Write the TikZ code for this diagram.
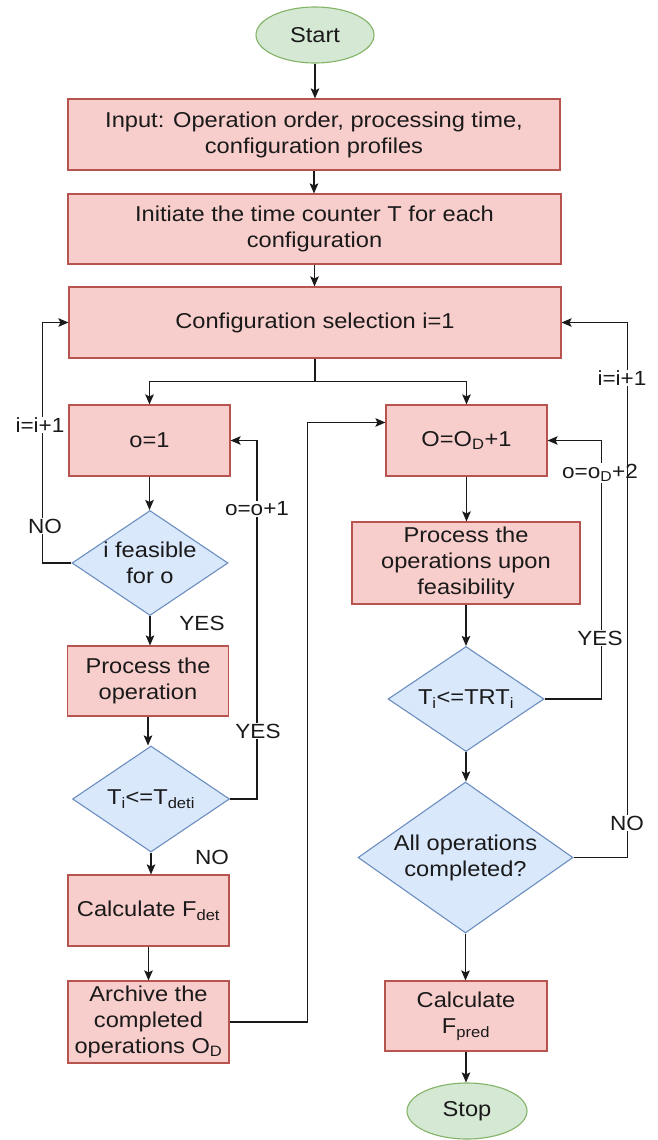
\documentclass[tikz,border=0pt]{standalone}
\usepackage{fontspec}
\setmainfont{Liberation Sans}[FakeStretch=1.1]
\usetikzlibrary{positioning,arrows.meta,calc,shapes.geometric}
\definecolor{ink}{HTML}{1A1A1A}
\definecolor{boxfill}{HTML}{F8CECC}
\definecolor{boxline}{HTML}{B85450}
\definecolor{askfill}{HTML}{DAE8FC}
\definecolor{askline}{HTML}{6C8EBF}
\definecolor{endfill}{HTML}{D5E8D4}
\definecolor{endline}{HTML}{82B366}

\begin{document}
\begin{tikzpicture}[x=1pt, y=-1pt, font=\fontsize{21.5}{26}\selectfont, text=ink,
  procbox/.style={draw=boxline, fill=boxfill, line width=1.1pt, align=center, inner sep=0pt, minimum width=161pt, minimum height=71pt},
  askbox/.style={diamond, draw=askline, fill=askfill, line width=1.1pt, align=center, inner sep=-5pt, minimum width=156pt, minimum height=105pt, aspect=1.5},
  termbox/.style={ellipse, draw=endline, fill=endfill, line width=1.1pt, inner sep=0pt, minimum width=118pt, minimum height=56pt},
  flow/.style={-{Stealth[length=10pt,width=8.5pt,inset=2pt]}, line width=1.5pt, draw=ink},
  tag/.style={fill=white, inner sep=1pt, font=\fontsize{20.5}{24}\selectfont}]
  \useasboundingbox (0,0) rectangle (658,1140);
  % main spine
  \node[termbox] (start) at (315,35) {Start};
  \node[procbox, minimum width=492pt] (input) at (314,134.5) {Input: Operation order, processing time,\\configuration profiles};
  \node[procbox, minimum width=493pt, minimum height=70pt] (init) at (314.5,229) {Initiate the time counter T for each\\configuration};
  \node[procbox, minimum width=492pt] (config) at (315,322.5) {Configuration selection i=1};
  % left branch
  \node[procbox] (oone) at (149.5,440.5) {o=1};
  \node[askbox] (feas) at (150,563) {i feasible\\for o};
  \node[procbox, minimum height=70pt] (proc) at (148,681) {Process the\\operation};
  \node[askbox, minimum width=157pt, minimum height=106pt] (tdet) at (151,799) {T\textsubscript{i}<=T\textsubscript{deti}};
  \node[procbox] (fdet) at (148.5,910.5) {Calculate F\textsubscript{det}};
  \node[procbox, minimum height=82pt] (archive) at (148.5,1022) {Archive the\\completed\\operations O\textsubscript{D}};
  % right branch
  \node[procbox] (oinc) at (466.5,440.5) {O=O\textsubscript{D}+1};
  \node[procbox, minimum width=228pt, minimum height=82pt] (procops) at (466,563) {Process the\\operations upon\\feasibility};
  \node[askbox] (trt) at (466,699) {T\textsubscript{i}<=TRT\textsubscript{i}};
  \node[askbox, minimum width=215pt, minimum height=151pt, aspect=1.42] (allops) at (465.5,857.5) {All operations\\completed?};
  \node[procbox, minimum width=162pt, minimum height=70pt] (fpred) at (466,1016) {Calculate\\F\textsubscript{pred}};
  \node[termbox, minimum width=120pt] (stop) at (467,1111) {Stop};
  % straight arrows
  \foreach \a/\b in {start/input,input/init,init/config,oone/feas,feas/proc,proc/tdet,tdet/fdet,fdet/archive,oinc/procops,procops/trt,trt/allops,allops/fpred,fpred/stop}
    \draw[flow] (\a.south) -- (\a.south |- \b.north);
  \draw[flow] (config.south) -- ++(0,23) -| (oone.north);
  \draw[flow] (config.south) -- ++(0,23) -| (oinc.north);
  % loops
  \draw[flow] (feas.west) -- ++(-29,0) |- (config.west);
  \draw[flow] (tdet.east) -- ++(27,0) |- (oone.east);
  \draw[flow] (archive.east) -- ++(78,0) |- ($(oinc.west)!0.5!(oinc.north west)$);
  \draw[flow] (trt.east) -- ++(57,0) |- (oinc.east);
  \node[tag] (tagleftinc) at (40,425) {i=i+1};
  \node[tag] (tagleftno) at (45,526) {NO};
  \node[tag] (tagoinc) at (257,509) {o=o+1};
  \node[tag, fill=none] (tagfeasyes) at (202,623) {YES};
  \node[tag] (tagdetyes) at (258,731) {YES};
  \node[tag, fill=none] (tagdetno) at (212,857) {NO};
  \node[tag] (tagodinc) at (600,473) {o=o\textsubscript{D}+2};
  \node[tag] (tagtrtyes) at (600,638) {YES};
  \draw[flow] (allops.east) -- ++(54,0) |- (config.east);
  \node[tag] (tagrightno) at (627,823) {NO};
  \node[tag] (tagrightinc) at (622,378) {i=i+1};
\end{tikzpicture}
\end{document}
